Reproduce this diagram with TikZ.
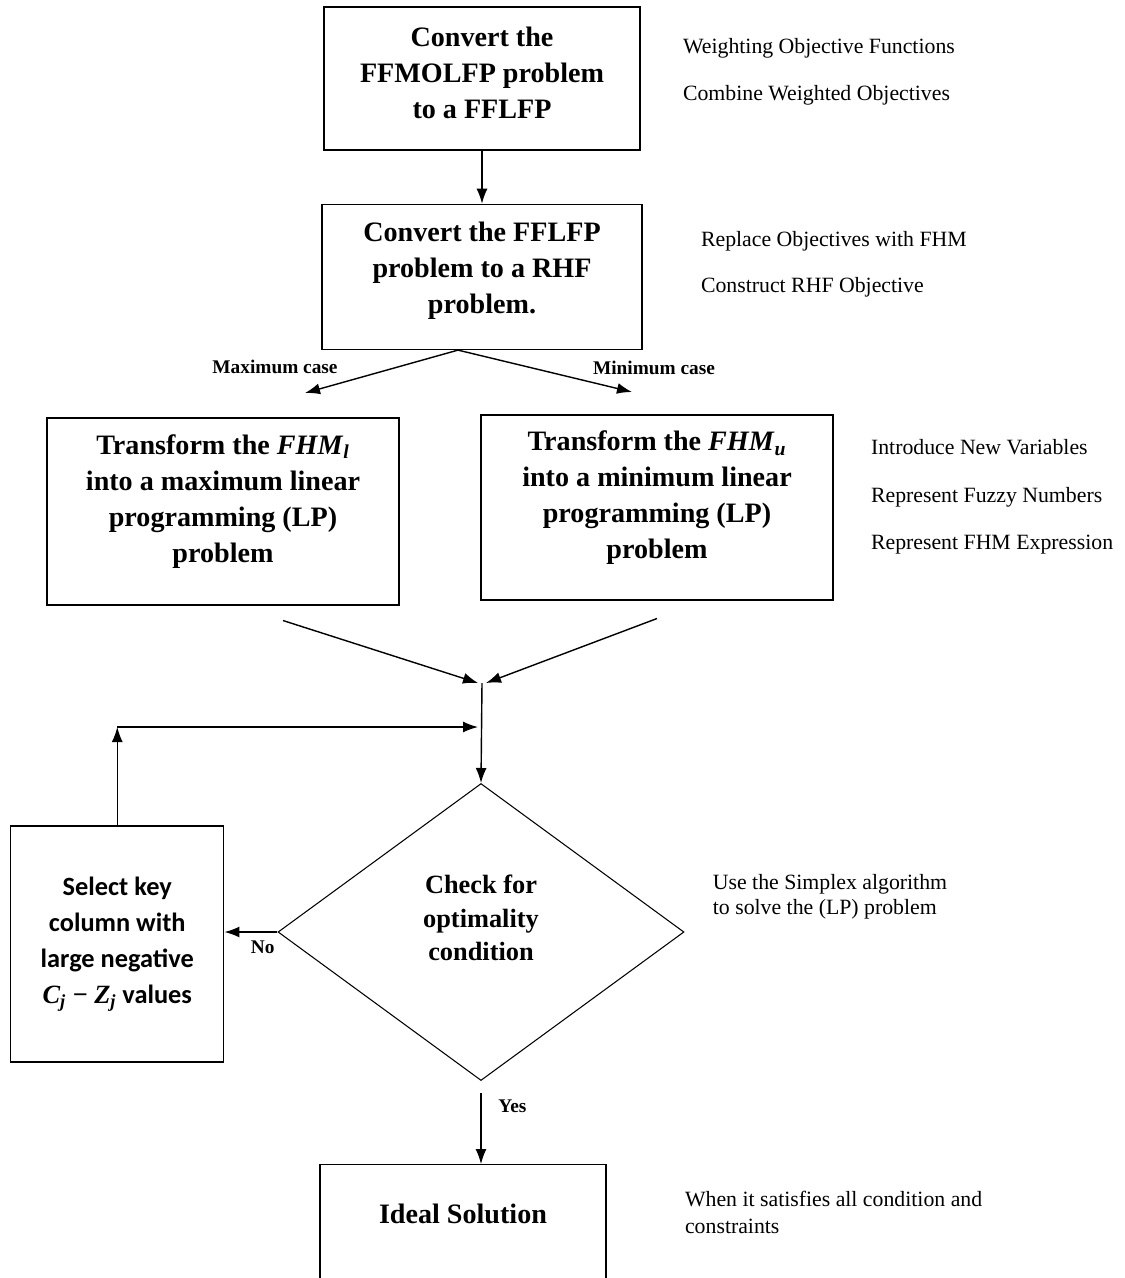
\documentclass[tikz,border=0pt]{standalone}
\usepackage{fontspec}
\setmainfont{Liberation Serif}
\newfontfamily\calibrifont{Carlito}
\usetikzlibrary{
  shapes.geometric,
  arrows.meta,
  positioning,
}
\tikzset{
  stepbox/.style={
    rectangle,
    draw=black,
    line width=0.8pt,
    align=center,
    inner sep=0pt,
    font=\bfseries\fontsize{16}{20.5}\selectfont
  },
  decision/.style={
    diamond,
    draw=black,
    line width=0.6pt,
    align=center,
    inner sep=0pt,
    minimum width=8.12cm,
    minimum height=5.94cm,
    font=\bfseries\fontsize{15}{19}\selectfont
  },
  note/.style={
    align=left,
    inner sep=0pt,
    font=\fontsize{12.4}{27}\selectfont
  },
  lbl/.style={
    inner sep=1pt,
    font=\bfseries\fontsize{11}{13}\selectfont
  },
  arrow/.style={
    thick,
    -{Latex[length=3mm, width=2.2mm]},
  },
}

\begin{document}
\begin{tikzpicture}

  \useasboundingbox (0,0) rectangle (22.5,-25.56);
  \clip (0,0) rectangle (22.5,-25.56);

  % Main steps
  \node (conv1) [stepbox, minimum width=6.32cm, minimum height=2.86cm]
    at (9.64,-1.57) {Convert the\\FFMOLFP problem\\to a FFLFP\\[-14pt]\mbox{}};
  \node (conv2) [stepbox, minimum width=6.4cm, minimum height=2.9cm,
    below=1.06cm of conv1] {Convert the FFLFP\\problem to a RHF\\problem.\\[-10pt]\mbox{}};
  \node (tmax) [stepbox, minimum width=7.04cm, minimum height=3.74cm,
    below=1.34cm of conv2, xshift=-5.18cm]
    {Transform the \textit{FHM}\textsubscript{\textit{l}}\\into a maximum linear\\programming (LP)\\problem\\[-6pt]\mbox{}};
  \node (tmin) [stepbox, minimum width=7.04cm, minimum height=3.7cm,
    below=1.28cm of conv2, xshift=3.5cm]
    {Transform the \textit{FHM}\textsubscript{\textit{u}}\\into a minimum linear\\programming (LP)\\problem\\[-6pt]\mbox{}};

  \node (check) [decision] at (9.62,-18.64) {Check for\\optimality\\condition\\[-3pt]\mbox{}};
  \node (sel) [stepbox, minimum width=4.26cm, minimum height=4.72cm,
    font=\calibrifont\bfseries\fontsize{15}{20.5}\selectfont,
    left=1.06cm of check, yshift=-0.24cm]
    {Select key\\column with\\large negative\\{\rmfamily\itshape C\textsubscript{j} \upshape−\itshape{} Z\textsubscript{j}} values};
  \node (ideal) [stepbox, minimum width=5.72cm, text height=0.44cm,
    text depth=1.5cm, inner ysep=0.74cm,
    below=1.66cm of check, xshift=-0.36cm] {Ideal Solution};

  % Side notes
  \node (note1) [note, right=0.84cm of conv1, yshift=0.13cm]
    {Weighting Objective Functions\\Combine Weighted Objectives};
  \node (note2) [note, right=1.16cm of conv2, yshift=0.25cm, font=\fontsize{12.4}{26}\selectfont]
    {Replace Objectives with FHM\\Construct RHF Objective};
  \node (note3) [note, right=0.74cm of tmin, yshift=0.21cm]
    {Introduce New Variables\\Represent Fuzzy Numbers\\Represent FHM Expression};
  \node (note4) [note, right=0.56cm of check, yshift=0.71cm, font=\fontsize{12.4}{14.2}\selectfont]
    {Use the Simplex algorithm\\to solve the (LP) problem};
  \node (note5) [note, right=1.56cm of ideal, yshift=0.76cm, font=\fontsize{12.4}{15.4}\selectfont]
    {When it satisfies all condition and\\constraints};

  % Helper points
  \coordinate (split) at ([xshift=-0.48cm]conv2.south);
  \coordinate (maxend) at (6.1,-7.86);
  \coordinate (minend) at (12.64,-7.84);
  \coordinate (tmaxout) at ([xshift=1.2cm, yshift=-0.3cm]tmax.south);
  \coordinate (tminout) at ([yshift=-0.36cm]tmin.south);
  \coordinate (merge) at (9.64,-13.66);
  \coordinate (loopend) at (9.56,-14.54);
  \coordinate (loopcorner) at (sel.north |- loopend);

  % Arrows
  \draw [arrow] (conv1) -- (conv2);
  \draw [arrow] (split) -- (maxend)
    node[lbl, xshift=-0.6cm, yshift=0.52cm] {Maximum case};
  \draw [arrow] (split) -- (minend)
    node[lbl, xshift=0.44cm, yshift=0.48cm] {Minimum case};
  \draw [arrow] (tmaxout) -- ([xshift=-0.08cm]merge);
  \draw [arrow] (tminout) -- ([xshift=0.08cm]merge);
  \draw [arrow] (merge) -- (check.north);
  \draw [arrow] (sel.north) -- (loopcorner);
  \draw [arrow] (loopcorner) -- (loopend);
  \draw [arrow] (check.west) -- (check.west -| sel.east)
    node[lbl, pos=0.28, below=0.12cm] {No};
  \draw [arrow, shorten <=0.24cm] (check.south) -- (check.south |- ideal.north)
    node[lbl, pos=0.3, right=0.3cm] {Yes};

\end{tikzpicture}
\end{document}
